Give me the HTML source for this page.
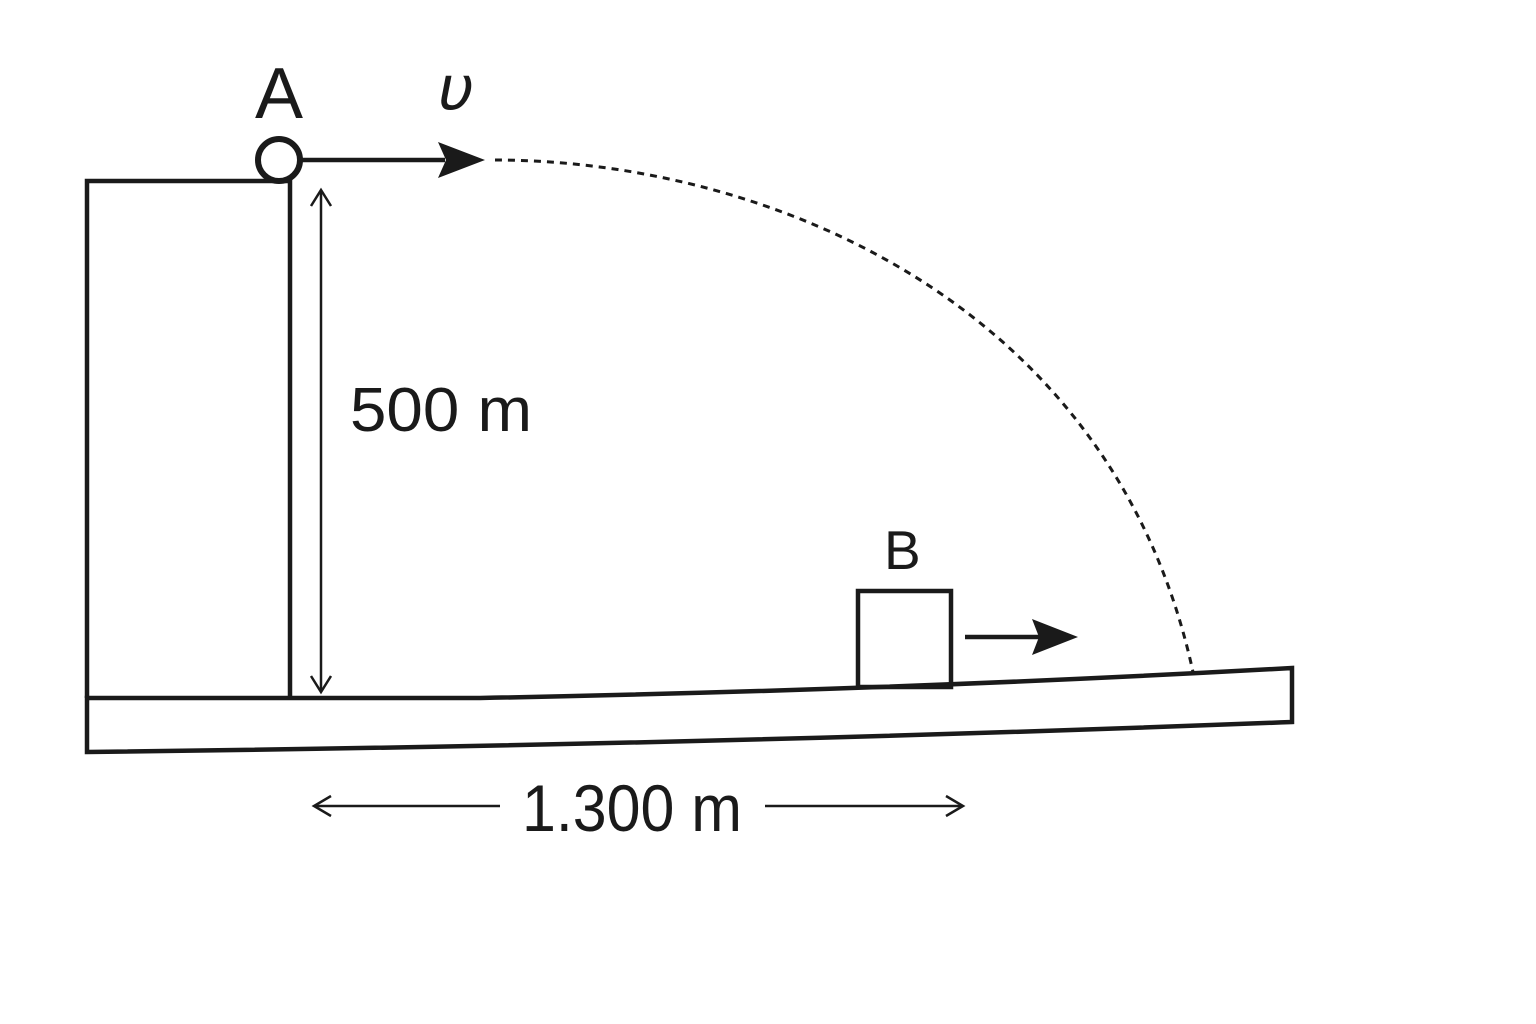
<!DOCTYPE html>
<html><head><style>html,body{margin:0;padding:0;background:#fff}svg{display:block}</style></head><body>
<svg width="1536" height="1024" viewBox="0 0 1536 1024" xmlns="http://www.w3.org/2000/svg">
<g fill="none" stroke="#1a1a1a" stroke-width="4.5">
<polyline points="87,698 87,181 290,181 290,698"/>
<path d="M87,698 L480,698 Q900,690 1292,668 L1292,722 Q700,745 87,752 Z"/>
<rect x="858" y="591" width="93" height="96"/>
<line x1="300" y1="160" x2="445" y2="160"/>
<line x1="965" y1="637" x2="1040" y2="637"/>
</g>
<circle cx="279" cy="160" r="21" fill="#fff" stroke="#1a1a1a" stroke-width="6"/>
<polygon points="438,142 485,160 438,178 446,160" fill="#1a1a1a"/>
<polygon points="1032,619 1078,637 1032,655 1039,637" fill="#1a1a1a"/>
<path d="M495,160 C750,160 1110,290 1193,672" fill="none" stroke="#1a1a1a" stroke-width="3" stroke-dasharray="7,6"/>
<g stroke="#1a1a1a" stroke-width="2.5" fill="none">
<line x1="321" y1="192" x2="321" y2="690"/>
<polyline points="311,206 321,190 331,206"/>
<polyline points="311,676 321,692 331,676"/>
<line x1="315" y1="806" x2="500" y2="806"/>
<line x1="765" y1="806" x2="962" y2="806"/>
<polyline points="331,796 314,806 331,816"/>
<polyline points="946,796 963,806 946,816"/>
</g>
<g font-family="'Liberation Sans', 'DejaVu Sans', sans-serif" fill="#1a1a1a">
<text x="255" y="118" font-size="72">A</text>
<text x="438" y="110" font-size="62" font-style="italic" font-family="'DejaVu Sans', sans-serif">υ</text>
<text x="350" y="431" font-size="62" textLength="182" lengthAdjust="spacingAndGlyphs">500 m</text>
<text x="884" y="569" font-size="55">B</text>
<text x="522" y="831" font-size="66" textLength="220" lengthAdjust="spacingAndGlyphs">1.300 m</text>
</g>
</svg>
</body></html>
